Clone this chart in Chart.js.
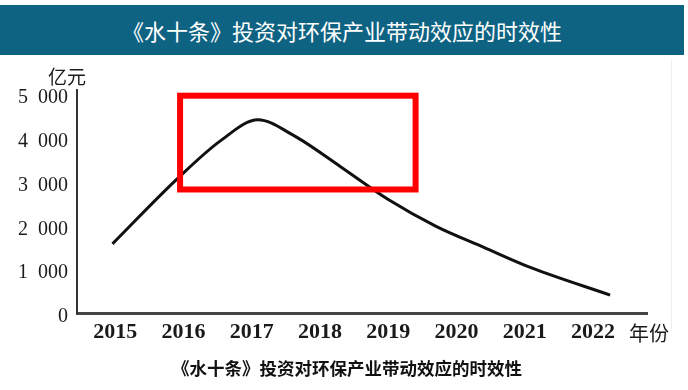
<!DOCTYPE html>
<html>
<head>
<meta charset="utf-8">
<script src="https://cdn.jsdelivr.net/npm/chart.js@4.4.0/dist/chart.umd.min.js"></script>
<style>
    html, body { margin: 0; padding: 0; background: #fff; }
    #pagina { position: relative; width: 688px; height: 390px; overflow: hidden; font-family: "Noto Sans CJK SC", sans-serif; }
    #titulo { position: absolute; left: 0; top: 5px; width: 684px; height: 50px; line-height: 50px; background: #0e6383; color: #fff; font-size: 22px; text-align: center; z-index: 2; }
    #grafico { position: absolute; left: 0; top: 0; width: 688px; height: 390px; }
    .rotulo { position: absolute; color: #1a1a1a; white-space: nowrap; z-index: 2; }
    #unidadeY { left: 48px; top: 62px; font-size: 19px; }
    #unidadeX { left: 629px; top: 318px; font-size: 20px; }
    #legenda { left: 0; width: 694px; top: 355px; font-size: 17.5px; font-weight: bold; text-align: center; color: #111; }
    #borda { position: absolute; left: 671px; top: 60px; width: 1px; height: 270px; background: #eeeeee; }
</style>
</head>
<body>
<div id="pagina">
    <div id="titulo">《水十条》投资对环保产业带动效应的时效性</div>
    <div id="borda"></div>
    <canvas id="grafico" width="688" height="390"></canvas>
    <div class="rotulo" id="unidadeY">亿元</div>
    <div class="rotulo" id="unidadeX">年份</div>
    <div class="rotulo" id="legenda">《水十条》投资对环保产业带动效应的时效性</div>
</div>
<script>
// eixo x (anos) e eixo y (亿元)
const anos = [2015, 2016, 2017, 2018, 2019, 2020, 2021, 2022];
const ticksY = [0, 1000, 2000, 3000, 4000, 5000];

// pontos: posição em anos e valor
const curvaAno = [2014.96, 2015.9, 2016.55, 2017.09, 2017.6, 2018.3, 2019.0, 2019.7, 2020.4, 2021.1, 2022.25];
const curvaValor = [1590, 3060, 3950, 4420, 4075, 3350, 2600, 1990, 1510, 1040, 420];

// retângulo vermelho de destaque (em unidades do gráfico)
const destaqueAno = [2015.95, 2019.40];
const destaqueValor = [2830, 4970];

const pontos = curvaAno.map((a, i) => ({ x: a, y: curvaValor[i] }));

const pluginDestaque = {
    id: 'destaque',
    afterDatasetsDraw(chart) {
        const { ctx, scales } = chart;
        const x1 = scales.x.getPixelForValue(destaqueAno[0]);
        const x2 = scales.x.getPixelForValue(destaqueAno[1]);
        const y1 = scales.y.getPixelForValue(destaqueValor[1]);
        const y2 = scales.y.getPixelForValue(destaqueValor[0]);
        ctx.save();
        ctx.strokeStyle = '#ff0000';
        ctx.lineWidth = 6;
        ctx.strokeRect(x1, y1, x2 - x1, y2 - y1);
        ctx.restore();
    }
};

function formatarMilhar(v) {
    if (v === 0) return '0';
    const s = String(v);
    return s.slice(0, s.length - 3) + '  ' + s.slice(-3);
}

new Chart(document.getElementById('grafico'), {
    type: 'line',
    data: {
        datasets: [{
            data: pontos,
            borderColor: '#111111',
            borderWidth: 3,
            pointRadius: 0,
            cubicInterpolationMode: 'monotone',
            fill: false
        }]
    },
    options: {
        responsive: false,
        animation: false,
        layout: { padding: { top: 90, right: 41, left: 0, bottom: 0 } },
        plugins: { legend: { display: false }, tooltip: { enabled: false } },
        scales: {
            x: {
                type: 'linear',
                min: 2014.44,
                max: 2022.79,
                grid: { display: false, drawTicks: false },
                border: { display: true, color: '#444444', width: 3 },
                afterBuildTicks: (scale) => { scale.ticks = anos.map(v => ({ value: v })); },
                afterFit: (scale) => { scale.height = 76.5; },
                ticks: {
                    padding: 6,
                    color: '#1a1a1a',
                    font: { family: 'Liberation Serif', size: 22, weight: 'bold' },
                    callback: (v) => String(v)
                }
            },
            y: {
                min: 0,
                max: 5100,
                grid: { display: false, drawTicks: false },
                border: { display: true, color: '#333333', width: 2 },
                afterBuildTicks: (scale) => { scale.ticks = ticksY.map(v => ({ value: v })); },
                afterFit: (scale) => { scale.width = 77; },
                ticks: {
                    padding: 9,
                    labelOffset: 3.5,
                    color: '#1a1a1a',
                    font: { family: 'Liberation Serif', size: 20 },
                    callback: (v) => formatarMilhar(v)
                }
            }
        }
    },
    plugins: [pluginDestaque]
});
</script>
</body>
</html>
